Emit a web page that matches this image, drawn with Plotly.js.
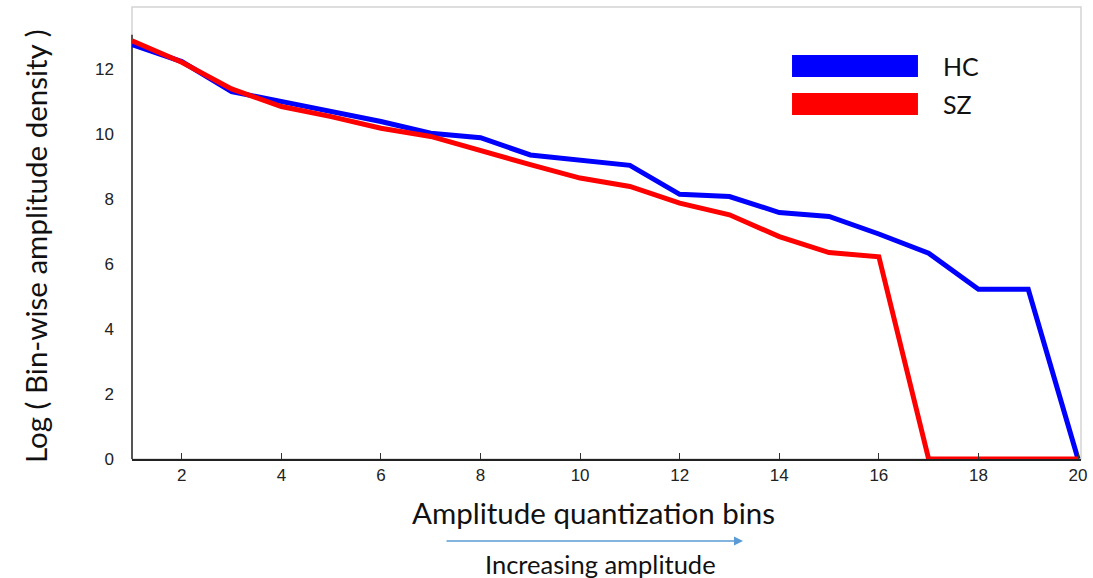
<!DOCTYPE html>
<html>
<head>
<meta charset="utf-8">
<script src="https://cdn.plot.ly/plotly-3.0.1.min.js"></script>
<style>html,body{margin:0;padding:0;background:#fff;}#chart{width:1093px;height:578px;}</style>
</head>
<body>
<div id="chart"></div>
<script>
const bins = [1,2,3,4,5,6,7,8,9,10,11,12,13,14,15,16,17,18,19,20];
const hcValues = [12.74,12.22,11.30,11.00,10.67,10.38,10.02,9.88,9.35,9.20,9.03,8.14,8.07,7.58,7.46,6.92,6.33,5.22,5.22,0];
const szValues = [12.86,12.20,11.38,10.84,10.53,10.17,9.92,9.47,9.05,8.64,8.38,7.87,7.51,6.84,6.35,6.22,0,0,0,0];
const seriesNames = ["HC","SZ"];
const seriesColors = ["#0000ff","#ff0000"];
const xTicks = [2,4,6,8,10,12,14,16,18,20];
const yTicks = [0,2,4,6,8,10,12];
const xTitle = 'Amplitude quantization bins';
const yTitle = 'Log ( Bin-wise amplitude density )';
const arrowLabel = 'Increasing amplitude';

const font = "Lato, 'Open Sans', sans-serif";
const tickFont = "'Liberation Sans', Arial, sans-serif";

const traces = [hcValues, szValues].map((vals, i) => ({
  x: bins, y: vals, type: 'scatter', mode: 'lines', name: seriesNames[i],
  line: {color: seriesColors[i], width: 5, shape: 'linear'},
  cliponaxis: false, showlegend: false, hoverinfo: 'skip'
}));

const legendBoxes = seriesNames.map((n, i) => ({
  type: 'rect', xref: 'paper', yref: 'paper',
  x0: 0.6955, x1: 0.8282,
  y0: 0.8451 - i * 0.0841, y1: 0.8938 - i * 0.0841,
  fillcolor: seriesColors[i], line: {width: 0}
}));
const legendTexts = seriesNames.map((n, i) => ({
  xref: 'paper', yref: 'paper', x: 0.852, y: 0.8695 - i * 0.0841,
  xanchor: 'left', yanchor: 'middle', text: n, showarrow: false,
  font: {family: font, size: 25, color: '#111'}
}));

const layout = {
  width: 1093, height: 578,
  margin: {l: 132, r: 12, t: 7, b: 119},
  paper_bgcolor: '#fff', plot_bgcolor: '#fff',
  showlegend: false,
  xaxis: {
    range: [1, 20.06], tickvals: xTicks, ticktext: xTicks.map(String),
    ticks: 'inside', ticklen: 6, tickwidth: 1, tickcolor: '#333',
    showgrid: false, zeroline: false, showline: true, linecolor: '#222', linewidth: 2,
    tickfont: {family: tickFont, size: 17, color: '#222'}
  },
  yaxis: {
    range: [0, 13.9], tickvals: yTicks, ticktext: yTicks.map(String),
    ticks: '', showgrid: false, zeroline: false, showline: false,
    ticklabelstandoff: 17,
    tickfont: {family: tickFont, size: 17, color: '#222'}
  },
  shapes: [
    {type: 'rect', xref: 'paper', yref: 'paper', x0: 0, x1: 1, y0: 0, y1: 1,
     line: {color: '#d4d4d4', width: 1.5}, layer: 'below'},
    {type: 'line', xref: 'paper', yref: 'y', x0: 0, x1: 0, y0: 0, y1: 13.05,
     line: {color: '#555', width: 2}, layer: 'below'}
  ].concat(legendBoxes),
  annotations: legendTexts.concat([
    {xref: 'paper', yref: 'paper', x: (593 - 132) / 949, y: (459 - 512) / 452,
     xanchor: 'center', yanchor: 'middle', text: xTitle, showarrow: false,
     font: {family: font, size: 29.5, color: '#111'}},
    {xref: 'paper', yref: 'paper', x: (35 - 132) / 949, y: (459 - 246) / 452,
     xanchor: 'center', yanchor: 'middle', text: yTitle, textangle: -90, showarrow: false,
     font: {family: font, size: 29.5, color: '#111'}},
    {xref: 'paper', yref: 'paper', x: (743 - 132) / 949, y: (459 - 541) / 452,
     ax: -298, ay: 0, text: '', showarrow: true, arrowhead: 2, arrowsize: 1.2,
     arrowwidth: 1.5, arrowcolor: '#5b9bd5'},
    {xref: 'paper', yref: 'paper', x: (600 - 132) / 949, y: (459 - 564) / 452,
     xanchor: 'center', yanchor: 'middle', text: arrowLabel, showarrow: false,
     font: {family: font, size: 25.5, color: '#111'}}
  ])
};

Plotly.newPlot('chart', traces, layout, {displayModeBar: false, staticPlot: true});
</script>
</body>
</html>
